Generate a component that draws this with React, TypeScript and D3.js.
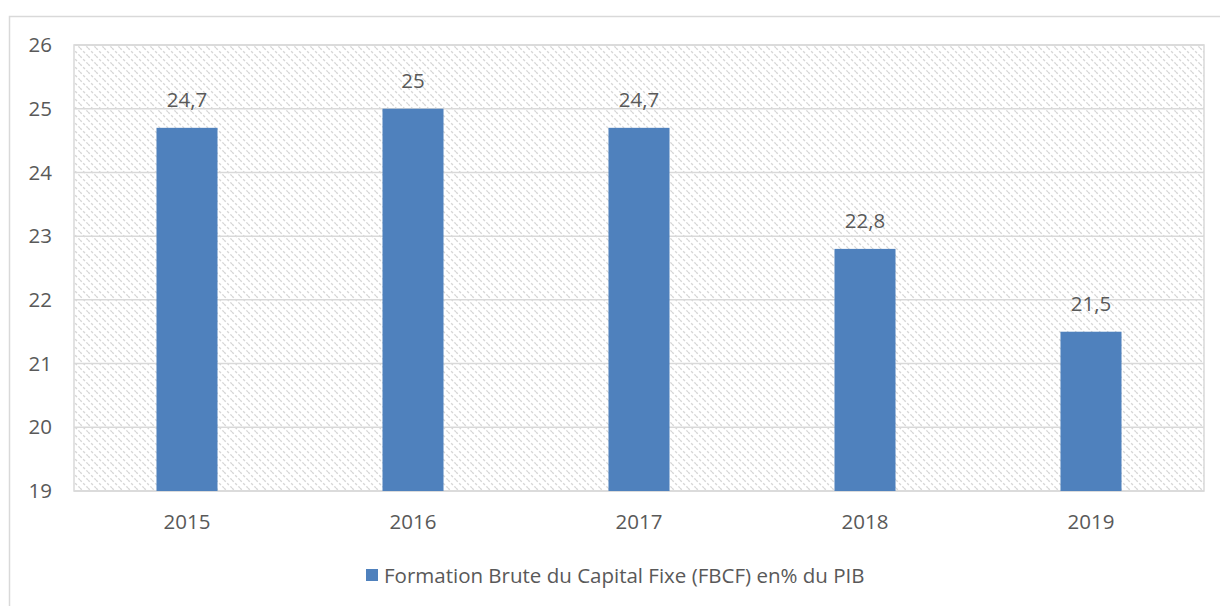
import React from "react";
import * as d3 from "d3";

const years = ["2015", "2016", "2017", "2018", "2019"];
const values = [24.7, 25, 24.7, 22.8, 21.5];
const yTicks = [19, 20, 21, 22, 23, 24, 25, 26];
const seriesName = "Formation Brute du Capital Fixe (FBCF) en% du PIB";

const W = 1220;
const H = 606;
const left = 74;
const right = 1204;
const top = 45;
const bottom = 491;
const FONT = "'Open Sans', sans-serif";
const TXT = "#595959";
const BLUE = "#4f81bd";
const FS = 20.5;

export default function App() {
  const x = d3.scaleBand<string>().domain(years).range([left, right]).paddingInner(0.73).paddingOuter(0.365);
  const y = d3.scaleLinear().domain([19, 26]).range([bottom, top]);
  const fmt = (v: number) => String(v).replace(".", ",");
  return (
    <svg width={W} height={H} style={{ position: "absolute", left: 0, top: 0, background: "#fff" }}>
      <defs>
        <pattern id="hatch" width="8" height="8" patternUnits="userSpaceOnUse">
          <rect width="8" height="8" fill="#fff" />
          <path d="M0,0 L8,8 M-4,4 L0,8 M4,-4 L8,0" stroke="#d6d6d6" strokeWidth="1.3" strokeDasharray="2.5,2" />
        </pattern>
      </defs>
      <rect x={9.5} y={16.5} width={W} height={H} fill="none" stroke="#d9d9d9" strokeWidth={1.5} />
      <rect x={left} y={top} width={right - left} height={bottom - top} fill="url(#hatch)" />
      {yTicks.map((t) => (
        <g key={t}>
          <line x1={left} x2={right} y1={y(t)} y2={y(t)} stroke="#d9d9d9" strokeWidth={1.5} />
          <text x={52} y={y(t)} dy="0.35em" textAnchor="end" fontFamily={FONT} fontSize={FS} fill={TXT}>
            {t}
          </text>
        </g>
      ))}
      <rect x={left} y={top} width={right - left} height={bottom - top} fill="none" stroke="#d9d9d9" strokeWidth={1.5} />
      {years.map((yr, i) => (
        <g key={yr}>
          <rect x={x(yr)} y={y(values[i])} width={x.bandwidth()} height={bottom - y(values[i])} fill={BLUE} />
          <text x={(x(yr) as number) + x.bandwidth() / 2} y={y(values[i]) - 21} textAnchor="middle" fontFamily={FONT} fontSize={FS} fill={TXT}>
            {fmt(values[i])}
          </text>
          <text x={(x(yr) as number) + x.bandwidth() / 2} y={529} textAnchor="middle" fontFamily={FONT} fontSize={FS} fill={TXT}>
            {yr}
          </text>
        </g>
      ))}
      <rect x={366} y={569} width={12} height={12} fill={BLUE} />
      <text x={384} y={583} fontFamily={FONT} fontSize={FS} fill={TXT}>
        {seriesName}
      </text>
    </svg>
  );
}
